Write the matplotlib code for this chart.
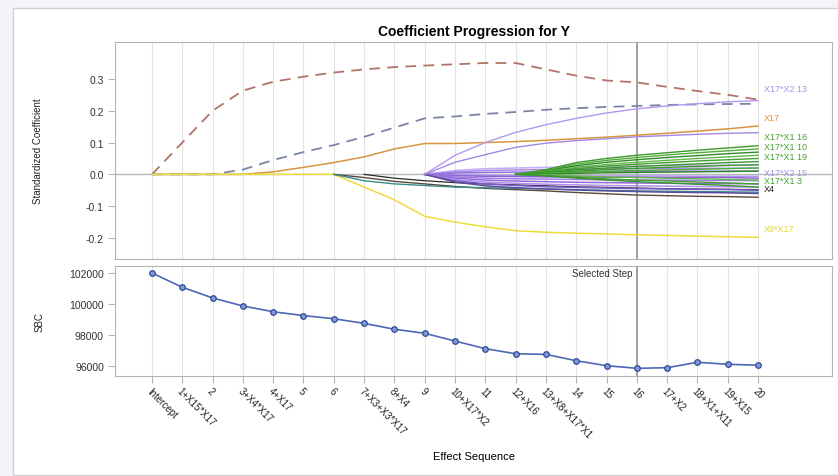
import numpy as np
import matplotlib
matplotlib.use('Agg')
import matplotlib.pyplot as plt
from matplotlib.patches import Rectangle

plt.rcParams['font.family'] = ['Liberation Sans', 'DejaVu Sans']

# ---- data ----
steps = list(range(21))
step_labels = ["Intercept", "1+X15*X17", "2", "3+X4*X17", "4+X17", "5", "6",
               "7+X3+X3*X17", "8+X4", "9", "10+X17*X2", "11", "12+X16",
               "13+X8+X17*X1", "14", "15", "16", "17+X2", "18+X1+X11",
               "19+X15", "20"]
selected_step = 16

sbc = [102000, 101080, 100390, 99870, 99500, 99250, 99050, 98750, 98370,
       98110, 97610, 97120, 96790, 96750, 96340, 96020, 95850, 95890,
       96240, 96110, 96050]

brown_dashed = [0, 0.10, 0.20, 0.263, 0.291, 0.307, 0.32, 0.33, 0.337, 0.342,
                0.346, 0.35, 0.35, 0.33, 0.31, 0.295, 0.289, 0.275, 0.262,
                0.25, 0.235]
blue_dashed = [0, 0, 0, 0.015, 0.045, 0.07, 0.092, 0.118, 0.147, 0.176,
               0.182, 0.19, 0.196, 0.203, 0.208, 0.212, 0.215, 0.218, 0.22,
               0.221, 0.222]
x17 = [0, 0, 0, 0, 0.008, 0.022, 0.037, 0.055, 0.08, 0.097, 0.097, 0.1,
       0.103, 0.107, 0.112, 0.117, 0.123, 0.129, 0.136, 0.143, 0.152]
x9x17 = [0, 0, 0, 0, 0, 0, 0, -0.04, -0.08, -0.132, -0.15, -0.165, -0.177,
         -0.182, -0.185, -0.187, -0.19, -0.192, -0.194, -0.196, -0.198]

# lines entering at step 6 / 8 (values from that step on)
dark_start = 6
dark_brown = [0, -0.01, -0.022, -0.03, -0.038, -0.044, -0.048, -0.052, -0.057,
              -0.061, -0.065, -0.067, -0.069, -0.07, -0.072]
teal = [0, -0.02, -0.03, -0.035, -0.04, -0.042, -0.044, -0.046, -0.048,
        -0.05, -0.052, -0.053, -0.054, -0.055, -0.056]
x4_start = 7
x4 = [0, -0.012, -0.02, -0.026, -0.03, -0.033, -0.036, -0.039, -0.041,
      -0.043, -0.045, -0.046, -0.047, -0.048]

# X17*X2 levels (enter after step 9)
lav_start = 9
lav_13 = [0, 0.06, 0.1, 0.132, 0.156, 0.176, 0.193, 0.206, 0.215, 0.222,
          0.228, 0.232]
lav_b = [0, 0.038, 0.062, 0.085, 0.098, 0.106, 0.112, 0.118, 0.122, 0.126,
         0.129, 0.131]
purple_paths = [
    [0, 0.012, 0.018, 0.020, 0.022, 0.024, 0.025, 0.026, 0.027, 0.028, 0.029, 0.030],
    [0, 0.008, 0.012, 0.014, 0.015, 0.016, 0.017, 0.018, 0.018, 0.019, 0.019, 0.020],
    [0, 0.004, 0.006, 0.007, 0.008, 0.008, 0.009, 0.009, 0.010, 0.010, 0.010, 0.010],
    [0, -0.002, -0.003, -0.004, -0.004, -0.005, -0.005, -0.005, -0.005, -0.006, -0.006, -0.006],
    [0, -0.004, -0.006, -0.007, -0.008, -0.008, -0.009, -0.009, -0.010, -0.010, -0.010, -0.012],
    [0, -0.008, -0.012, -0.014, -0.015, -0.016, -0.017, -0.018, -0.018, -0.019, -0.019, -0.020],
    [0, -0.012, -0.018, -0.021, -0.023, -0.025, -0.026, -0.027, -0.028, -0.029, -0.029, -0.030],
    [0, -0.016, -0.024, -0.028, -0.031, -0.033, -0.035, -0.036, -0.037, -0.038, -0.039, -0.040],
    [0, -0.020, -0.030, -0.035, -0.039, -0.041, -0.043, -0.045, -0.046, -0.047, -0.048, -0.050],
    [0, -0.024, -0.036, -0.042, -0.046, -0.049, -0.052, -0.054, -0.056, -0.057, -0.058, -0.060],
]
purple_colors = ['#c4acf6', '#a888ea', '#9670dc', '#b498f0', '#8a64d4',
                 '#a07ee6', '#9068d8', '#b090ee', '#7a5cc8', '#5a4c9c']

# X17*X1 levels (enter after step 12)
green_start = 12
green_paths = [
    [0, 0.015, 0.037, 0.050, 0.060, 0.068, 0.076, 0.083, 0.090],
    [0, 0.013, 0.032, 0.044, 0.053, 0.061, 0.068, 0.074, 0.080],
    [0, 0.011, 0.027, 0.038, 0.046, 0.053, 0.059, 0.065, 0.070],
    [0, 0.009, 0.022, 0.031, 0.038, 0.044, 0.050, 0.055, 0.060],
    [0, 0.008, 0.018, 0.026, 0.032, 0.037, 0.042, 0.046, 0.050],
    [0, 0.006, 0.014, 0.020, 0.025, 0.029, 0.033, 0.037, 0.040],
    [0, 0.004, 0.010, 0.015, 0.019, 0.022, 0.025, 0.028, 0.030],
    [0, 0.003, 0.007, 0.010, 0.012, 0.014, 0.016, 0.018, 0.020],
    [0, 0.001, 0.003, 0.005, 0.006, 0.007, 0.008, 0.009, 0.010],
    [0, -0.002, -0.005, -0.008, -0.010, -0.012, -0.014, -0.016, -0.018],
    [0, -0.004, -0.009, -0.014, -0.018, -0.021, -0.024, -0.027, -0.030],
    [0, -0.005, -0.012, -0.018, -0.023, -0.027, -0.031, -0.035, -0.040],
]
green_colors = ['#3c9a2c', '#52ac3a', '#2e8a26', '#64b848', '#44a032', '#3a9430']

# right-hand effect labels: text, y position, colour
end_labels = ["X17*X2 13", "X17", "X17*X1 16", "X17*X1 10", "X17*X1 19",
              "X17*X2 15", "X17*X1 3", "X4", "X9*X17"]
end_label_y = [0.27, 0.18, 0.119, 0.088, 0.055, 0.007, -0.02, -0.044, -0.17]
end_label_colors = ['#a890e0', '#d8903c', '#48a030', '#48a030', '#48a030',
                    '#a890e0', '#48a030', '#222222', '#e6d630']

# ---- figure ----
fig = plt.figure(figsize=(8.38, 4.77), dpi=100, facecolor='#f3f4f7')
frame = Rectangle((13/838, 1-476/477), 1.0, 467/477, transform=fig.transFigure,
                  facecolor='white', edgecolor='#d0d0d0', lw=1, zorder=-10)
fig.patches.append(frame)

ax1 = fig.add_axes([115/838, 1-260/477, 717/838, 217/477])
ax2 = fig.add_axes([115/838, 1-377/477, 717/838, 110/477])

for ax in (ax1, ax2):
    for s in steps:
        ax.axvline(s, color='#e2e2e2', lw=0.8, zorder=0)
    ax.axvline(selected_step, color='#9a9a9a', lw=1.3, zorder=1)
    ax.set_xlim(-1.22, 22.44)
    for sp in ax.spines.values():
        sp.set_color('#b4b4b4')
    ax.tick_params(axis='y', colors='#b4b4b4', labelcolor='#333333',
                   labelsize=7.5, length=5, pad=3)

# coefficient panel
ax1.axhline(0, color='#b8b8b8', lw=1, zorder=1)
ax1.plot(steps, brown_dashed, color='#b07468', lw=1.3, dashes=(6, 4))
ax1.plot(steps, blue_dashed, color='#7a86a8', lw=1.3, dashes=(6, 4))
ax1.plot(steps, x17, color='#d8943e', lw=1.1)
ax1.plot(steps, x9x17, color='#ecdc3c', lw=1.1)
ax1.plot(steps[dark_start:], dark_brown, color='#5a4a3c', lw=1.0)
ax1.plot(steps[dark_start:], teal, color='#3a8c8c', lw=1.0)
ax1.plot(steps[x4_start:], x4, color='#2a2a2a', lw=0.9)
for path, col in zip(purple_paths, purple_colors):
    ax1.plot(steps[lav_start:], path, color=col, lw=1.1)
for i, path in enumerate(green_paths):
    ax1.plot(steps[green_start:], path, color=green_colors[i % len(green_colors)], lw=1.0)
ax1.plot(steps[lav_start:], lav_13, color='#b498f0', lw=1.0)
ax1.plot(steps[lav_start:], lav_b, color='#a488e4', lw=1.0)
for txt, yv, col in zip(end_labels, end_label_y, end_label_colors):
    ax1.text(20.2, yv, txt, color=col, fontsize=6.5, va='center', ha='left')

ax1.set_ylim(-0.266, 0.416)
ax1.set_yticks([-0.2, -0.1, 0.0, 0.1, 0.2, 0.3])
ax1.set_yticklabels(['-0.2', '-0.1', '0.0', '0.1', '0.2', '0.3'])
ax1.set_xticks([])
ax1.set_ylabel('Standardized Coefficient', fontsize=7, color='#222222', labelpad=31)
ax1.set_title('Coefficient Progression for Y', fontsize=10, fontweight='bold',
              pad=5)

# SBC panel
ax2.plot(steps, sbc, color='#4d68b4', lw=1.2, marker='o', ms=4,
         mfc='#8498d4', mec='#2e4a9c', mew=0.9, zorder=3)
ax2.set_ylim(95355, 102450)
ax2.set_yticks([96000, 98000, 100000, 102000])
ax2.set_ylabel('SBC', fontsize=7, color='#222222', labelpad=18)
ax2.text(selected_step - 0.15, 102350, 'Selected Step', ha='right', va='top',
         fontsize=7, color='#333333')
ax2.set_xticks(steps)
ax2.set_xticklabels(step_labels, rotation=-45, ha='left', va='top',
                    rotation_mode='anchor', fontsize=7, color='#222222')
ax2.tick_params(axis='x', colors='#b4b4b4', labelcolor='#222222', length=5, pad=2)
for lbl in ax2.get_xticklabels():
    lbl.set_color('#222222')
ax2.set_xlabel('Effect Sequence', fontsize=8, labelpad=8)

fig.savefig('out.png', dpi=100, facecolor=fig.get_facecolor())
